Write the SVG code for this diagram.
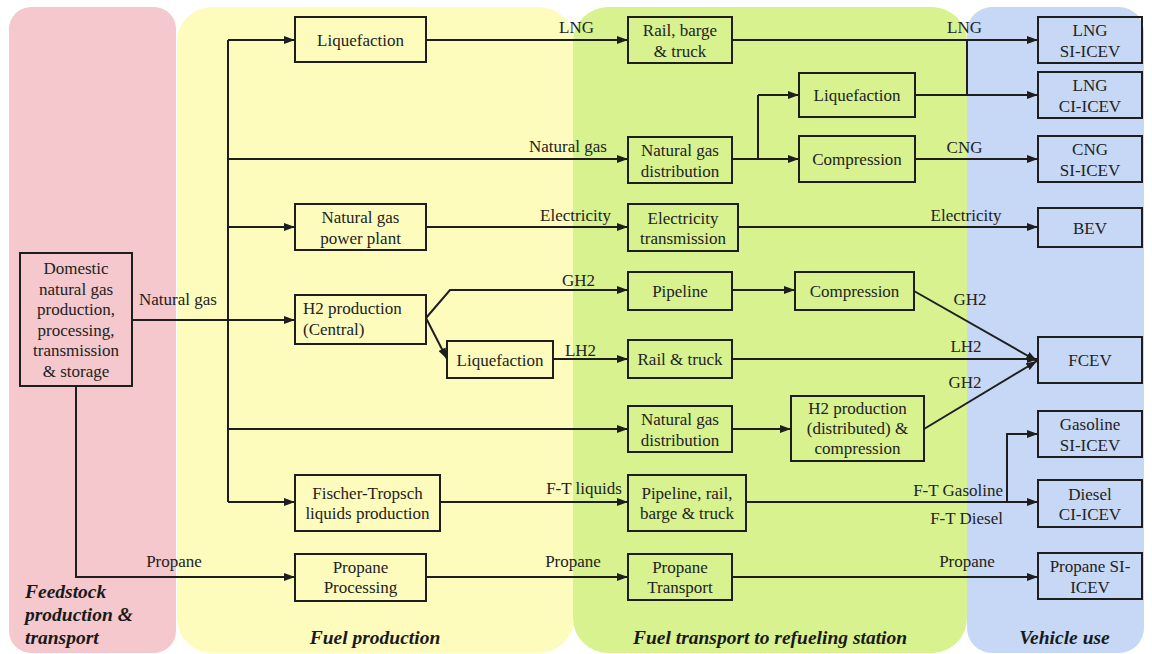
<svg xmlns="http://www.w3.org/2000/svg" width="1152" height="654" viewBox="0 0 1152 654">
<defs>
<style>
.bx{fill:none;stroke:#1e1e1e;stroke-width:2}
text{font-family:'Liberation Serif','Times New Roman',Times,'DejaVu Serif',serif}
.t{font-size:17px;fill:#222;text-anchor:middle}
.te{font-size:17px;fill:#222;text-anchor:end}
.tl{font-size:17px;fill:#222}
.sec{font-size:19.5px;font-weight:bold;font-style:italic;fill:#1a1a1a}
.c{fill:none;stroke:#1e1e1e;stroke-width:2}
.a{marker-end:url(#ah)}
</style>
<marker id="ah" markerUnits="userSpaceOnUse" markerWidth="12" markerHeight="8" refX="11" refY="4" orient="auto">
<path d="M0,0 L11,4 L0,8 z" fill="#1e1e1e"/>
</marker>
</defs>
<rect width="1152" height="654" fill="#ffffff"/>
<g id="panels">
<rect x="9" y="7" width="167" height="646" rx="22" fill="#f4c8cc"/>
<rect x="177" y="7" width="397" height="646" rx="35" fill="#fdfcbd"/>
<rect x="573" y="7" width="394" height="646" rx="35" fill="#d8f290"/>
<rect x="967" y="7" width="177" height="646" rx="25" fill="#c6d8f5"/>
<text class="sec" x="25" y="598">Feedstock</text>
<text class="sec" x="25" y="621">production &amp;</text>
<text class="sec" x="25" y="644">transport</text>
<text class="sec" x="375" y="644" text-anchor="middle">Fuel production</text>
<text class="sec" x="770" y="644" text-anchor="middle">Fuel transport to refueling station</text>
<text class="sec" x="1064.5" y="644" text-anchor="middle">Vehicle use</text>
</g>
<g id="connectors">
<path class="c a" d="M132,320 H295"/>
<path class="c" d="M228,40 V502"/>
<path class="c a" d="M228,40 H295"/>
<path class="c a" d="M228,159 H628"/>
<path class="c a" d="M228,227 H295"/>
<path class="c a" d="M228,429 H628"/>
<path class="c a" d="M228,502 H295"/>
<path class="c a" d="M76,386 V577 H295"/>
<path class="c a" d="M426,40 H628"/>
<path class="c a" d="M732,40 H1038"/>
<path class="c" d="M967,40 V95"/>
<path class="c a" d="M915,95 H1038"/>
<path class="c" d="M732,159 H758 M758,95 V159"/>
<path class="c a" d="M758,95 H799"/>
<path class="c a" d="M758,159 H799"/>
<path class="c a" d="M915,159 H1038"/>
<path class="c a" d="M426,227 H628"/>
<path class="c a" d="M738,227 H1038"/>
<path class="c a" d="M426,318 L450,290 H628"/>
<path class="c a" d="M426,318 L447,359"/>
<path class="c a" d="M553,359 H628"/>
<path class="c a" d="M732,290 H795"/>
<path class="c a" d="M914,291 L1037,361"/>
<path class="c a" d="M732,359 H1038"/>
<path class="c a" d="M924,429 L1037,361"/>
<path class="c a" d="M732,429 H791"/>
<path class="c a" d="M440,502 H628"/>
<path class="c a" d="M746,502 H1038"/>
<path class="c a" d="M1007,502 V434 H1038"/>
<path class="c a" d="M426,577 H628"/>
<path class="c a" d="M732,577 H1038"/>
<text class="t" x="178" y="305">Natural gas</text>
<text class="t" x="174" y="567">Propane</text>
<text class="t" x="576.5" y="33">LNG</text>
<text class="t" x="568" y="152">Natural gas</text>
<text class="t" x="575.5" y="221">Electricity</text>
<text class="t" x="578.5" y="286">GH2</text>
<text class="t" x="580.5" y="356">LH2</text>
<text class="t" x="584" y="494">F-T liquids</text>
<text class="t" x="573" y="567">Propane</text>
<text class="t" x="964.5" y="33">LNG</text>
<text class="t" x="964.5" y="153">CNG</text>
<text class="t" x="966" y="221">Electricity</text>
<text class="t" x="970" y="305">GH2</text>
<text class="t" x="966" y="352">LH2</text>
<text class="t" x="965" y="388">GH2</text>
<text class="te" x="1003" y="496">F-T Gasoline</text>
<text class="te" x="1003" y="524">F-T Diesel</text>
<text class="t" x="967" y="567">Propane</text>
</g>
<g id="n-domestic">
<rect class="bx" x="20" y="253" width="112" height="133"/>
<text class="t" x="76" y="274">Domestic</text>
<text class="t" x="76" y="294.5">natural gas</text>
<text class="t" x="76" y="315">production,</text>
<text class="t" x="76" y="335.5">processing,</text>
<text class="t" x="76" y="356">transmission</text>
<text class="t" x="76" y="376.5">&amp; storage</text>
</g>
<g id="n-liq1">
<rect class="bx" x="295" y="17" width="131" height="45"/>
<text class="t" x="360.5" y="46">Liquefaction</text>
</g>
<g id="n-ngpp">
<rect class="bx" x="295" y="204" width="131" height="46"/>
<text class="t" x="360.5" y="223">Natural gas</text>
<text class="t" x="360.5" y="243.5">power plant</text>
</g>
<g id="n-h2c">
<rect class="bx" x="295" y="295" width="131" height="49"/>
<text class="tl" x="303" y="314">H2 production</text>
<text class="tl" x="303" y="335">(Central)</text>
</g>
<g id="n-liq2">
<rect class="bx" x="447" y="341" width="106" height="37"/>
<text class="t" x="500" y="365.5">Liquefaction</text>
</g>
<g id="n-ft">
<rect class="bx" x="295" y="475" width="145" height="56"/>
<text class="t" x="367.5" y="498.5">Fischer-Tropsch</text>
<text class="t" x="367.5" y="519">liquids production</text>
</g>
<g id="n-pp">
<rect class="bx" x="295" y="554" width="131" height="47"/>
<text class="t" x="360.5" y="572.5">Propane</text>
<text class="t" x="360.5" y="593">Processing</text>
</g>
<g id="n-rbt">
<rect class="bx" x="628" y="17" width="104" height="46"/>
<text class="t" x="680" y="36">Rail, barge</text>
<text class="t" x="680" y="56.5">&amp; truck</text>
</g>
<g id="n-ngd1">
<rect class="bx" x="628" y="137" width="104" height="46"/>
<text class="t" x="680" y="156">Natural gas</text>
<text class="t" x="680" y="176.5">distribution</text>
</g>
<g id="n-et">
<rect class="bx" x="628" y="204" width="110" height="47"/>
<text class="t" x="683" y="223.5">Electricity</text>
<text class="t" x="683" y="244">transmission</text>
</g>
<g id="n-pipe">
<rect class="bx" x="628" y="272" width="104" height="38"/>
<text class="t" x="680" y="297">Pipeline</text>
</g>
<g id="n-rt">
<rect class="bx" x="628" y="340" width="104" height="38"/>
<text class="t" x="680" y="365">Rail &amp; truck</text>
</g>
<g id="n-ngd2">
<rect class="bx" x="628" y="406" width="104" height="46"/>
<text class="t" x="680" y="425">Natural gas</text>
<text class="t" x="680" y="445.5">distribution</text>
</g>
<g id="n-prbt">
<rect class="bx" x="628" y="475" width="118" height="56"/>
<text class="t" x="687" y="498.5">Pipeline, rail,</text>
<text class="t" x="687" y="519">barge &amp; truck</text>
</g>
<g id="n-pt">
<rect class="bx" x="628" y="554" width="104" height="46"/>
<text class="t" x="680" y="572.5">Propane</text>
<text class="t" x="680" y="593">Transport</text>
</g>
<g id="n-liq3">
<rect class="bx" x="799" y="73" width="116" height="44"/>
<text class="t" x="857" y="101">Liquefaction</text>
</g>
<g id="n-comp1">
<rect class="bx" x="799" y="136" width="116" height="46"/>
<text class="t" x="857" y="165">Compression</text>
</g>
<g id="n-comp2">
<rect class="bx" x="795" y="272" width="119" height="38"/>
<text class="t" x="854.5" y="297">Compression</text>
</g>
<g id="n-h2d">
<rect class="bx" x="791" y="396" width="133" height="65"/>
<text class="t" x="857.5" y="414">H2 production</text>
<text class="t" x="857.5" y="434">(distributed) &amp;</text>
<text class="t" x="857.5" y="454">compression</text>
</g>
<g id="n-lngsi">
<rect class="bx" x="1038" y="17" width="104" height="46"/>
<text class="t" x="1090" y="36">LNG</text>
<text class="t" x="1090" y="56.5">SI-ICEV</text>
</g>
<g id="n-lngci">
<rect class="bx" x="1038" y="72" width="104" height="46"/>
<text class="t" x="1090" y="91">LNG</text>
<text class="t" x="1090" y="111.5">CI-ICEV</text>
</g>
<g id="n-cngsi">
<rect class="bx" x="1038" y="136" width="104" height="46"/>
<text class="t" x="1090" y="155">CNG</text>
<text class="t" x="1090" y="175.5">SI-ICEV</text>
</g>
<g id="n-bev">
<rect class="bx" x="1038" y="208" width="104" height="39"/>
<text class="t" x="1090" y="233.5">BEV</text>
</g>
<g id="n-fcev">
<rect class="bx" x="1038" y="337" width="104" height="46"/>
<text class="t" x="1090" y="366">FCEV</text>
</g>
<g id="n-gassi">
<rect class="bx" x="1038" y="411" width="104" height="46"/>
<text class="t" x="1090" y="430">Gasoline</text>
<text class="t" x="1090" y="450.5">SI-ICEV</text>
</g>
<g id="n-dieci">
<rect class="bx" x="1038" y="480" width="104" height="47"/>
<text class="t" x="1090" y="499.5">Diesel</text>
<text class="t" x="1090" y="520">CI-ICEV</text>
</g>
<g id="n-prosi">
<rect class="bx" x="1038" y="553" width="104" height="46"/>
<text class="t" x="1090" y="572">Propane SI-</text>
<text class="t" x="1090" y="592.5">ICEV</text>
</g>
</svg>
